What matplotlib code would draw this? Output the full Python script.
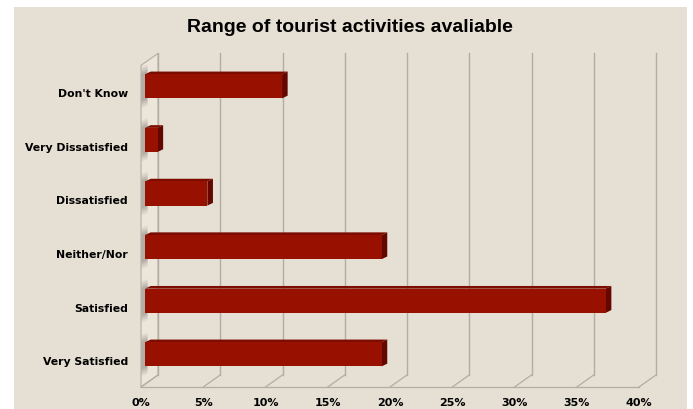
import numpy as np
import matplotlib.pyplot as plt
from matplotlib.patches import Polygon, Rectangle

# ── 資料 ──────────────────────────────────────────────
categories = ['Very Satisfied', 'Satisfied', 'Neither/Nor',
              'Dissatisfied', 'Very Dissatisfied', "Don't Know"]
values = [19, 37, 19, 5, 1, 11]          # 百分比
x_ticks = [0, 5, 10, 15, 20, 25, 30, 35, 40]
x_tick_labels = [f'{t}%' for t in x_ticks]
title = 'Range of tourist activities avaliable'

# ── 樣式 ──────────────────────────────────────────────
PAPER = '#e6dfd3'
GRID = '#b2ada5'
BAR_FRONT = '#981100'
BAR_TOP = '#7c0b00'
BAR_SIDE = '#640700'
FONT = 'Liberation Sans'
LABEL_FONT = 'DejaVu Sans'

# 假 3D 的深度位移（資料座標）
DX, DY = 1.37, 0.225          # 背板相對前緣的偏移
D0 = 0.24                     # 長條前面所在深度比例
BDX, BDY = 0.45, 0.05         # 長條本身厚度
BAR_H = 0.45
BAR_SHIFT = 0.11

W, H = 693, 410
fig = plt.figure(figsize=(W / 100, H / 100), dpi=100, facecolor='white')

# 紙張背景
fig.patches.append(Rectangle((14 / W, 0), (687 - 14) / W, (H - 8) / H,
                             transform=fig.transFigure, facecolor=PAPER,
                             edgecolor='none', zorder=-10))

ax = fig.add_axes([141 / W, 22 / H, (639 - 141) / W, (388 - 66.4) / H])
ax.set_facecolor('none')
ax.set_xlim(0, 40)
ax.set_ylim(-0.5, len(categories) - 0.5)
for s in ax.spines.values():
    s.set_visible(False)

y0, y1 = -0.5, len(categories) - 0.5

# 左側牆面
wall = Polygon([(0, y0), (DX, y0 + DY), (DX, y1 + DY), (0, y1)],
               closed=True, facecolor='#ebe5da', edgecolor=GRID, lw=0.8,
               clip_on=False, zorder=1)
ax.add_patch(wall)

# 背板格線與地板斜線
for t in x_ticks:
    ax.plot([t + DX, t + DX], [y0 + DY, y1 + DY], color=GRID, lw=1.0,
            clip_on=False, zorder=1)
    ax.plot([t, t + DX], [y0, y0 + DY], color=GRID, lw=0.9,
            clip_on=False, zorder=1)
ax.plot([0, 40], [y0, y0], color=GRID, lw=0.9, clip_on=False, zorder=1)

# 長條（前面、上面、側面）與牆上的陰影
for i, v in enumerate(values):
    yc = i + BAR_SHIFT
    yb, yt = yc - BAR_H / 2, yc + BAR_H / 2
    xl = D0 * DX
    xr = xl + v

    # 牆面陰影，疊幾層半透明灰色
    for k, a in enumerate([0.08, 0.10, 0.12, 0.14]):
        grow = 0.18 - k * 0.04
        shadow = Polygon([(0.05, yb - grow), (xl + 0.2, yb - grow + 0.04),
                          (xl + 0.2, yt + grow), (0.05, yt + grow - 0.04)],
                         closed=True, facecolor='#5a5550', edgecolor='none',
                         alpha=a, clip_on=False, zorder=2)
        ax.add_patch(shadow)

    top = Polygon([(xl, yt), (xl + BDX, yt + BDY), (xr + BDX, yt + BDY), (xr, yt)],
                  closed=True, facecolor=BAR_TOP, edgecolor='none',
                  clip_on=False, zorder=3)
    side = Polygon([(xr, yb), (xr + BDX, yb + BDY), (xr + BDX, yt + BDY), (xr, yt)],
                   closed=True, facecolor=BAR_SIDE, edgecolor='none',
                   clip_on=False, zorder=3)
    ax.add_patch(top)
    ax.add_patch(side)
    ax.barh(yc, v, left=xl, height=BAR_H, color=BAR_FRONT,
            edgecolor='none', zorder=4, clip_on=False)

# 刻度標籤
ax.set_yticks(range(len(categories)))
ax.set_yticklabels(categories, fontfamily=LABEL_FONT, fontweight='bold', fontsize=7.8)
ax.set_xticks(x_ticks)
ax.set_xticklabels(x_tick_labels, fontfamily=LABEL_FONT, fontweight='bold', fontsize=8)
ax.tick_params(axis='y', length=0, pad=9.5)
ax.tick_params(axis='x', length=0, pad=7)

fig.text(350 / W, 1 - 27 / H, title, ha='center', va='center',
         fontfamily=FONT, fontweight='bold', fontsize=14)

fig.savefig('out.png', dpi=100, facecolor='white')
